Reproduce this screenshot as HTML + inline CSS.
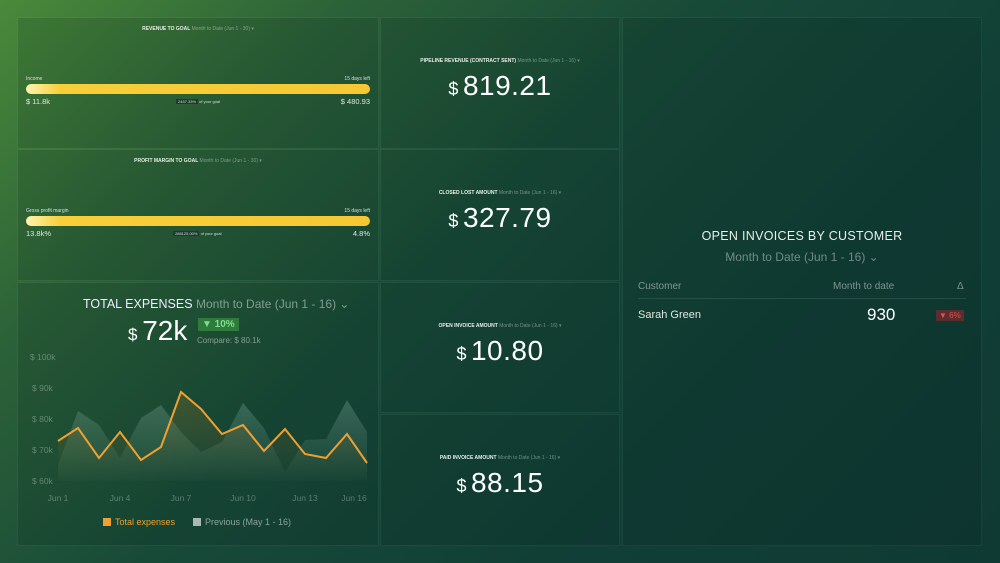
<!DOCTYPE html>
<html><head><meta charset="utf-8"><style>
*{margin:0;padding:0;box-sizing:border-box}
body{width:1000px;height:563px;overflow:hidden;font-family:"Liberation Sans",sans-serif;color:#fff;
background:linear-gradient(135deg,#4a8a3a 0%,#2c6238 22%,#184a38 45%,#113f36 70%,#0f3a34 100%);position:relative}
.p{position:absolute;background:rgba(0,20,15,0.12);box-shadow:0 0 0 1px rgba(255,255,255,0.04)}
.t{position:absolute;width:100%;text-align:center;font-size:5px;font-weight:bold;color:#e8efe8}
.t span{font-weight:normal;color:rgba(255,255,255,0.4)}
.big{position:absolute;width:100%;text-align:center;font-size:28px;letter-spacing:0.5px}
.big small{font-size:18px;margin-right:4px}
.bar{position:absolute;left:8px;right:8px;height:10px;border-radius:5px;background:linear-gradient(90deg,#fff3b0 0%,#f7cf3a 10%,#f5c833 100%)}
.s{position:absolute;font-size:5px;color:#dde}
.v{position:absolute;font-size:7.5px;color:#dfe8df}
</style></head><body>
<div class="p" style="left:18px;top:18px;width:360px;height:130px">
 <div class="t" style="top:8px">REVENUE TO GOAL <span>Month to Date (Jun 1 - 30) ▾</span></div>
 <div class="s" style="left:8px;top:58px">Income</div><div class="s" style="right:8px;top:58px">15 days left</div>
 <div class="bar" style="top:66px"></div>
 <div class="v" style="left:8px;top:79px">$ 11.8k</div><div class="v" style="right:8px;top:79px">$ 480.93</div>
 <div class="s" style="left:158px;top:81px;font-size:4px"><span style="background:#1d3a2a;padding:0 2px">2457.33%</span> of your goal</div>
</div>
<div class="p" style="left:18px;top:150px;width:360px;height:130px">
 <div class="t" style="top:8px">PROFIT MARGIN TO GOAL <span>Month to Date (Jun 1 - 30) ▾</span></div>
 <div class="s" style="left:8px;top:58px">Gross profit margin</div><div class="s" style="right:8px;top:58px">15 days left</div>
 <div class="bar" style="top:66px"></div>
 <div class="v" style="left:8px;top:79px">13.8k%</div><div class="v" style="right:8px;top:79px">4.8%</div>
 <div class="s" style="left:155px;top:81px;font-size:4px"><span style="background:#1d3a2a;padding:0 2px">288125.00%</span> of your goal</div>
</div>
<div class="p" style="left:18px;top:283px;width:360px;height:262px">
 <div style="position:absolute;left:65px;top:14px;font-size:12.5px;color:#eef">TOTAL EXPENSES <span style="color:rgba(255,255,255,0.45);font-size:12px">Month to Date (Jun 1 - 16) ⌄</span></div>
 <div style="position:absolute;left:110px;top:32px;font-size:28px"><small style="font-size:17px">$ </small>72k</div>
 <div style="position:absolute;left:180px;top:35px;background:#2f7a3d;color:#7ee08a;font-size:10px;font-weight:bold;padding:1px 4px">▼ 10%</div>
 <div style="position:absolute;left:179px;top:53px;font-size:8px;color:rgba(255,255,255,0.45)">Compare: $ 80.1k</div>
 <svg style="position:absolute;left:-18px;top:-283px" width="380" height="545">
  <g font-size="8.5" fill="rgba(255,255,255,0.3)" font-family="Liberation Sans">
   <text x="30" y="360">$ 100k</text><text x="32" y="391">$ 90k</text><text x="32" y="422">$ 80k</text><text x="32" y="453">$ 70k</text><text x="32" y="484">$ 60k</text>
   <text x="58" y="501" text-anchor="middle">Jun 1</text><text x="120" y="501" text-anchor="middle">Jun 4</text><text x="181" y="501" text-anchor="middle">Jun 7</text><text x="243" y="501" text-anchor="middle">Jun 10</text><text x="305" y="501" text-anchor="middle">Jun 13</text><text x="354" y="501" text-anchor="middle">Jun 16</text>
  </g>
  <defs><linearGradient id="g" x1="0" y1="0" x2="0" y2="1"><stop offset="0" stop-color="#7aa898" stop-opacity="0.35"/><stop offset="1" stop-color="#7aa898" stop-opacity="0.03"/></linearGradient>
  <linearGradient id="o" x1="0" y1="0" x2="0" y2="1"><stop offset="0" stop-color="#b07a2a" stop-opacity="0.25"/><stop offset="1" stop-color="#b07a2a" stop-opacity="0"/></linearGradient></defs>
  <polygon fill="url(#g)" points="58,481 58,465 78,411 99,425 120,458 141,418 161,405 181,432 201,452 222,442 243,403 264,428 285,472 305,440 326,439 347,400 367,432 367,481"/>
  <polygon fill="url(#o)" points="58,481 58,441 78,428 99,458 120,432 141,460 161,447 181,392 201,409 222,434 243,425 264,451 285,429 305,454 326,458 347,434 367,463 367,481"/>
  <polyline fill="none" stroke="#f0a030" stroke-width="2" points="58,441 78,428 99,458 120,432 141,460 161,447 181,392 201,409 222,434 243,425 264,451 285,429 305,454 326,458 347,434 367,463"/>
 </svg>
 <div style="position:absolute;left:85px;top:234px;font-size:9px;color:#f0a030"><span style="display:inline-block;width:8px;height:8px;background:#f0a030;vertical-align:-1px;margin-right:4px"></span>Total expenses</div>
 <div style="position:absolute;left:175px;top:234px;font-size:9px;color:rgba(255,255,255,0.5)"><span style="display:inline-block;width:8px;height:8px;background:#a9b8b2;vertical-align:-1px;margin-right:4px"></span>Previous (May 1 - 16)</div>
</div>
<div class="p" style="left:381px;top:18px;width:238px;height:130px">
 <div class="t" style="top:40px">PIPELINE REVENUE (CONTRACT SENT) <span>Month to Date (Jun 1 - 16) ▾</span></div>
 <div class="big" style="top:52px"><small>$</small>819.21</div>
</div>
<div class="p" style="left:381px;top:150px;width:238px;height:130px">
 <div class="t" style="top:40px">CLOSED LOST AMOUNT <span>Month to Date (Jun 1 - 16) ▾</span></div>
 <div class="big" style="top:52px"><small>$</small>327.79</div>
</div>
<div class="p" style="left:381px;top:283px;width:238px;height:129px">
 <div class="t" style="top:40px">OPEN INVOICE AMOUNT <span>Month to Date (Jun 1 - 16) ▾</span></div>
 <div class="big" style="top:52px"><small>$</small>10.80</div>
</div>
<div class="p" style="left:381px;top:415px;width:238px;height:130px">
 <div class="t" style="top:40px">PAID INVOICE AMOUNT <span>Month to Date (Jun 1 - 16) ▾</span></div>
 <div class="big" style="top:52px"><small>$</small>88.15</div>
</div>
<div class="p" style="left:623px;top:18px;width:358px;height:527px">
 <div style="position:absolute;width:100%;top:211px;text-align:center;font-size:12.5px;color:#e8eee8;letter-spacing:0.3px">OPEN INVOICES BY CUSTOMER</div>
 <div style="position:absolute;width:100%;top:232px;text-align:center;font-size:12px;color:rgba(255,255,255,0.4)">Month to Date (Jun 1 - 16) ⌄</div>
 <div style="position:absolute;left:15px;top:263px;font-size:10px;color:rgba(255,255,255,0.45)">Customer</div>
 <div style="position:absolute;left:210px;top:263px;font-size:10px;color:rgba(255,255,255,0.45)">Month to date</div>
 <div style="position:absolute;left:334px;top:263px;font-size:10px;color:rgba(255,255,255,0.45)">Δ</div>
 <div style="position:absolute;left:15px;right:15px;top:280px;height:1px;background:rgba(255,255,255,0.1)"></div>
 <div style="position:absolute;left:15px;top:291px;font-size:11px;color:#dfe8df">Sarah Green</div>
 <div style="position:absolute;left:244px;top:287px;font-size:17px">930</div>
 <div style="position:absolute;left:313px;top:292px;font-size:8px;color:#e05050;background:#5a2e2e;padding:1px 3px">▼ 6%</div>
</div>
</body></html>
